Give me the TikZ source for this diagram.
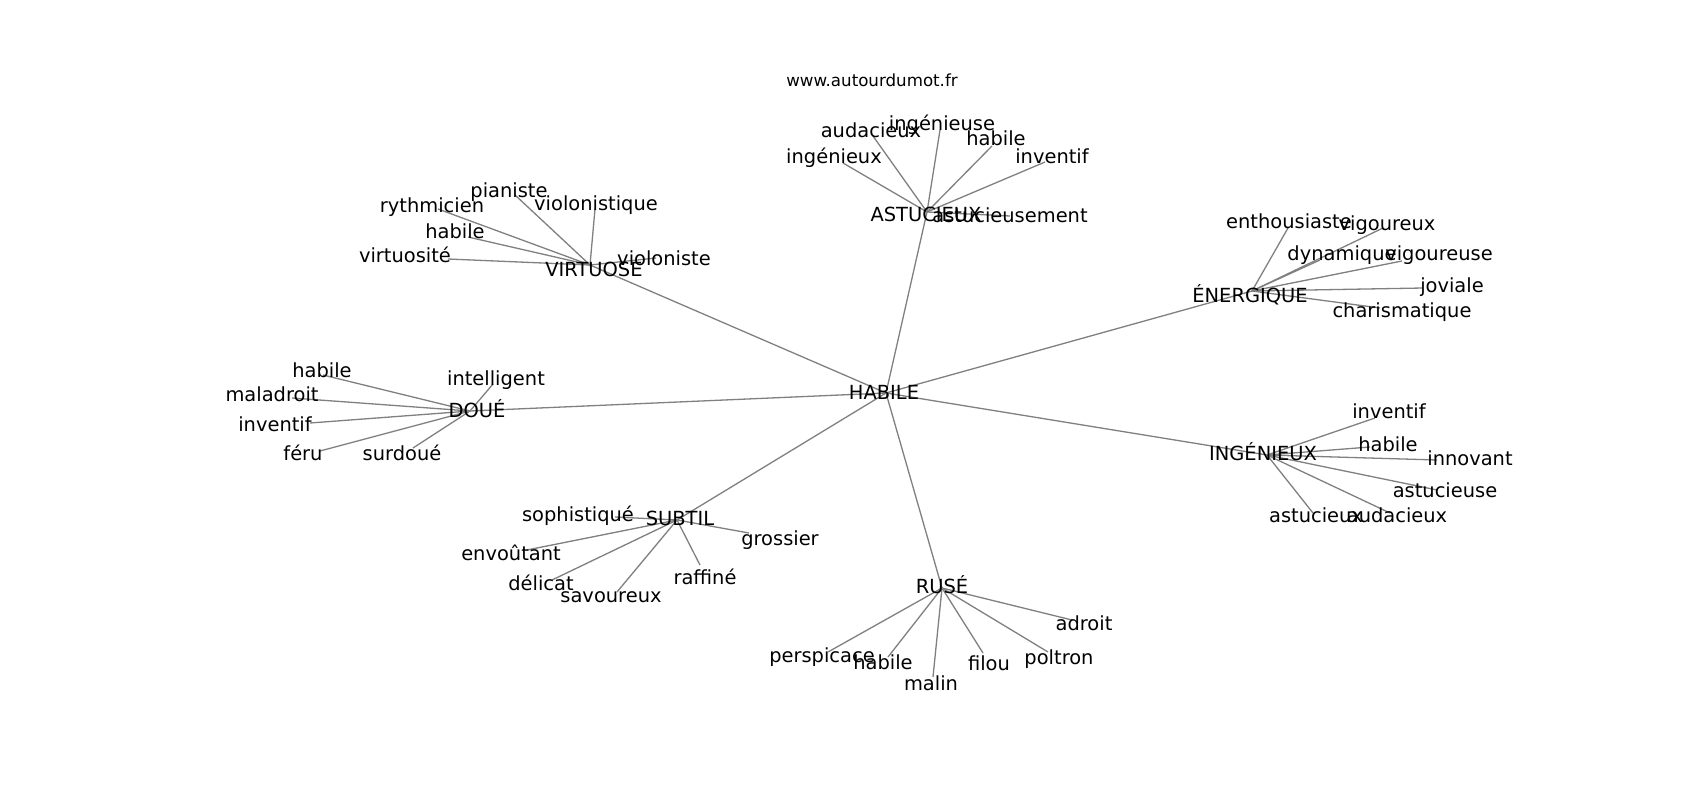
\documentclass[tikz,border=0pt]{standalone}
\usepackage{fontspec}
\setmainfont{DejaVu Sans}
\begin{document}
\begin{tikzpicture}[x=1pt,y=-1pt,
  lbl/.style={anchor=base, inner sep=0pt, text=black, font=\fontsize{19.44}{23}\selectfont},
  wm/.style={anchor=base, inner sep=0pt, text=black, font=\fontsize{16.67}{20}\selectfont},
  edge/.style={draw=gray, line width=1.3pt}]
\useasboundingbox[fill=white] (0,0) rectangle (1700,800);
% hub points
\coordinate (hHab) at (886,393);
\coordinate (hVir) at (590,265);
\coordinate (hAst) at (927,212);
\coordinate (hEne) at (1252,291);
\coordinate (hIng) at (1267,455);
\coordinate (hRus) at (942,588);
\coordinate (hSub) at (677,520);
\coordinate (hDou) at (470,411);
% VIRTUOSE leaves
\coordinate (v1) at (515,195);
\coordinate (v2) at (438,209);
\coordinate (v3) at (595,209);
\coordinate (v4) at (468,237);
\coordinate (v5) at (448,259);
\coordinate (v6) at (656,258);
% ASTUCIEUX leaves
\coordinate (a1) at (843,163);
\coordinate (a2) at (873,136);
\coordinate (a3) at (940,130);
\coordinate (a4) at (992,146);
\coordinate (a5) at (1045,162);
\coordinate (a6) at (1010,216);
% ENERGIQUE leaves
\coordinate (e1) at (1288,228);
\coordinate (e2) at (1383,228);
\coordinate (e3) at (1320,260);
\coordinate (e4) at (1402,261);
\coordinate (e5) at (1423,288);
\coordinate (e6) at (1380,308);
% INGENIEUX leaves
\coordinate (i1) at (1375,418);
\coordinate (i2) at (1370,447);
\coordinate (i3) at (1437,460);
\coordinate (i4) at (1437,490);
\coordinate (i5) at (1390,513);
\coordinate (i6) at (1313,513);
% RUSE leaves
\coordinate (r1) at (1072,620);
\coordinate (r2) at (828,652);
\coordinate (r3) at (888,657);
\coordinate (r4) at (933,677);
\coordinate (r5) at (983,653);
\coordinate (r6) at (1048,652);
% SUBTIL leaves
\coordinate (s1) at (615,517);
\coordinate (s2) at (527,550);
\coordinate (s3) at (552,580);
\coordinate (s4) at (617,592);
\coordinate (s5) at (700,565);
\coordinate (s6) at (749,533);
% DOUE leaves
\coordinate (d1) at (323,375);
\coordinate (d2) at (292,398);
\coordinate (d3) at (310,423);
\coordinate (d4) at (493,384);
\coordinate (d5) at (320,451);
\coordinate (d6) at (413,448);
% edges
\foreach \h in {hVir,hAst,hEne,hIng,hRus,hSub,hDou} \draw[edge] (hHab) -- (\h);
\foreach \n in {v1,v2,v3,v4,v5,v6} \draw[edge] (hVir) -- (\n);
\foreach \n in {a1,a2,a3,a4,a5,a6} \draw[edge] (hAst) -- (\n);
\foreach \n in {e1,e2,e3,e4,e5,e6} \draw[edge] (hEne) -- (\n);
\foreach \n in {i1,i2,i3,i4,i5,i6} \draw[edge] (hIng) -- (\n);
\foreach \n in {r1,r2,r3,r4,r5,r6} \draw[edge] (hRus) -- (\n);
\foreach \n in {s1,s2,s3,s4,s5,s6} \draw[edge] (hSub) -- (\n);
\foreach \n in {d1,d2,d3,d4,d5,d6} \draw[edge] (hDou) -- (\n);
% labels
\node[wm] (wm) at (872,87) {www.autourdumot.fr};
\node[lbl] (lHab) at (884,399) {HABILE};
\node[lbl] (lVir) at (594,276) {VIRTUOSE};
\node[lbl] (lAst) at (926,221) {ASTUCIEUX};
\node[lbl] (lEne) at (1250,302) {ÉNERGIQUE};
\node[lbl] (lIng) at (1263,460) {INGÉNIEUX};
\node[lbl] (lRus) at (942,593) {RUSÉ};
\node[lbl] (lSub) at (680,525) {SUBTIL};
\node[lbl] (lDou) at (477,417) {DOUÉ};
\node[lbl] (lv1) at (509,197) {pianiste};
\node[lbl] (lv2) at (432,212) {rythmicien};
\node[lbl] (lv3) at (596,210) {violonistique};
\node[lbl] (lv4) at (455,238) {habile};
\node[lbl] (lv5) at (405,262) {virtuosité};
\node[lbl] (lv6) at (664,265) {violoniste};
\node[lbl] (la1) at (834,163) {ingénieux};
\node[lbl] (la2) at (871,137) {audacieux};
\node[lbl] (la3) at (942,130) {ingénieuse};
\node[lbl] (la4) at (996,145) {habile};
\node[lbl] (la5) at (1052,163) {inventif};
\node[lbl] (la6) at (1010,222) {astucieusement};
\node[lbl] (le1) at (1289,228) {enthousiaste};
\node[lbl] (le2) at (1387,230) {vigoureux};
\node[lbl] (le3) at (1342,260) {dynamique};
\node[lbl] (le4) at (1439,260) {vigoureuse};
\node[lbl] (le5) at (1452,292) {joviale};
\node[lbl] (le6) at (1402,317) {charismatique};
\node[lbl] (li1) at (1389,418) {inventif};
\node[lbl] (li2) at (1388,451) {habile};
\node[lbl] (li3) at (1470,465) {innovant};
\node[lbl] (li4) at (1445,497) {astucieuse};
\node[lbl] (li5) at (1397,522) {audacieux};
\node[lbl] (li6) at (1316,522) {astucieux};
\node[lbl] (lr1) at (1084,630) {adroit};
\node[lbl] (lr2) at (822,662) {perspicace};
\node[lbl] (lr3) at (883,669) {habile};
\node[lbl] (lr4) at (931,690) {malin};
\node[lbl] (lr5) at (989,670) {filou};
\node[lbl] (lr6) at (1059,664) {poltron};
\node[lbl] (ls1) at (578,521) {sophistiqué};
\node[lbl] (ls2) at (511,560) {envoûtant};
\node[lbl] (ls3) at (541,590) {délicat};
\node[lbl] (ls4) at (611,602) {savoureux};
\node[lbl] (ls5) at (705,584) {raffiné};
\node[lbl] (ls6) at (780,545) {grossier};
\node[lbl] (ld1) at (322,377) {habile};
\node[lbl] (ld2) at (272,401) {maladroit};
\node[lbl] (ld3) at (275,431) {inventif};
\node[lbl] (ld4) at (496,385) {intelligent};
\node[lbl] (ld5) at (303,460) {féru};
\node[lbl] (ld6) at (402,460) {surdoué};
\end{tikzpicture}
\end{document}
